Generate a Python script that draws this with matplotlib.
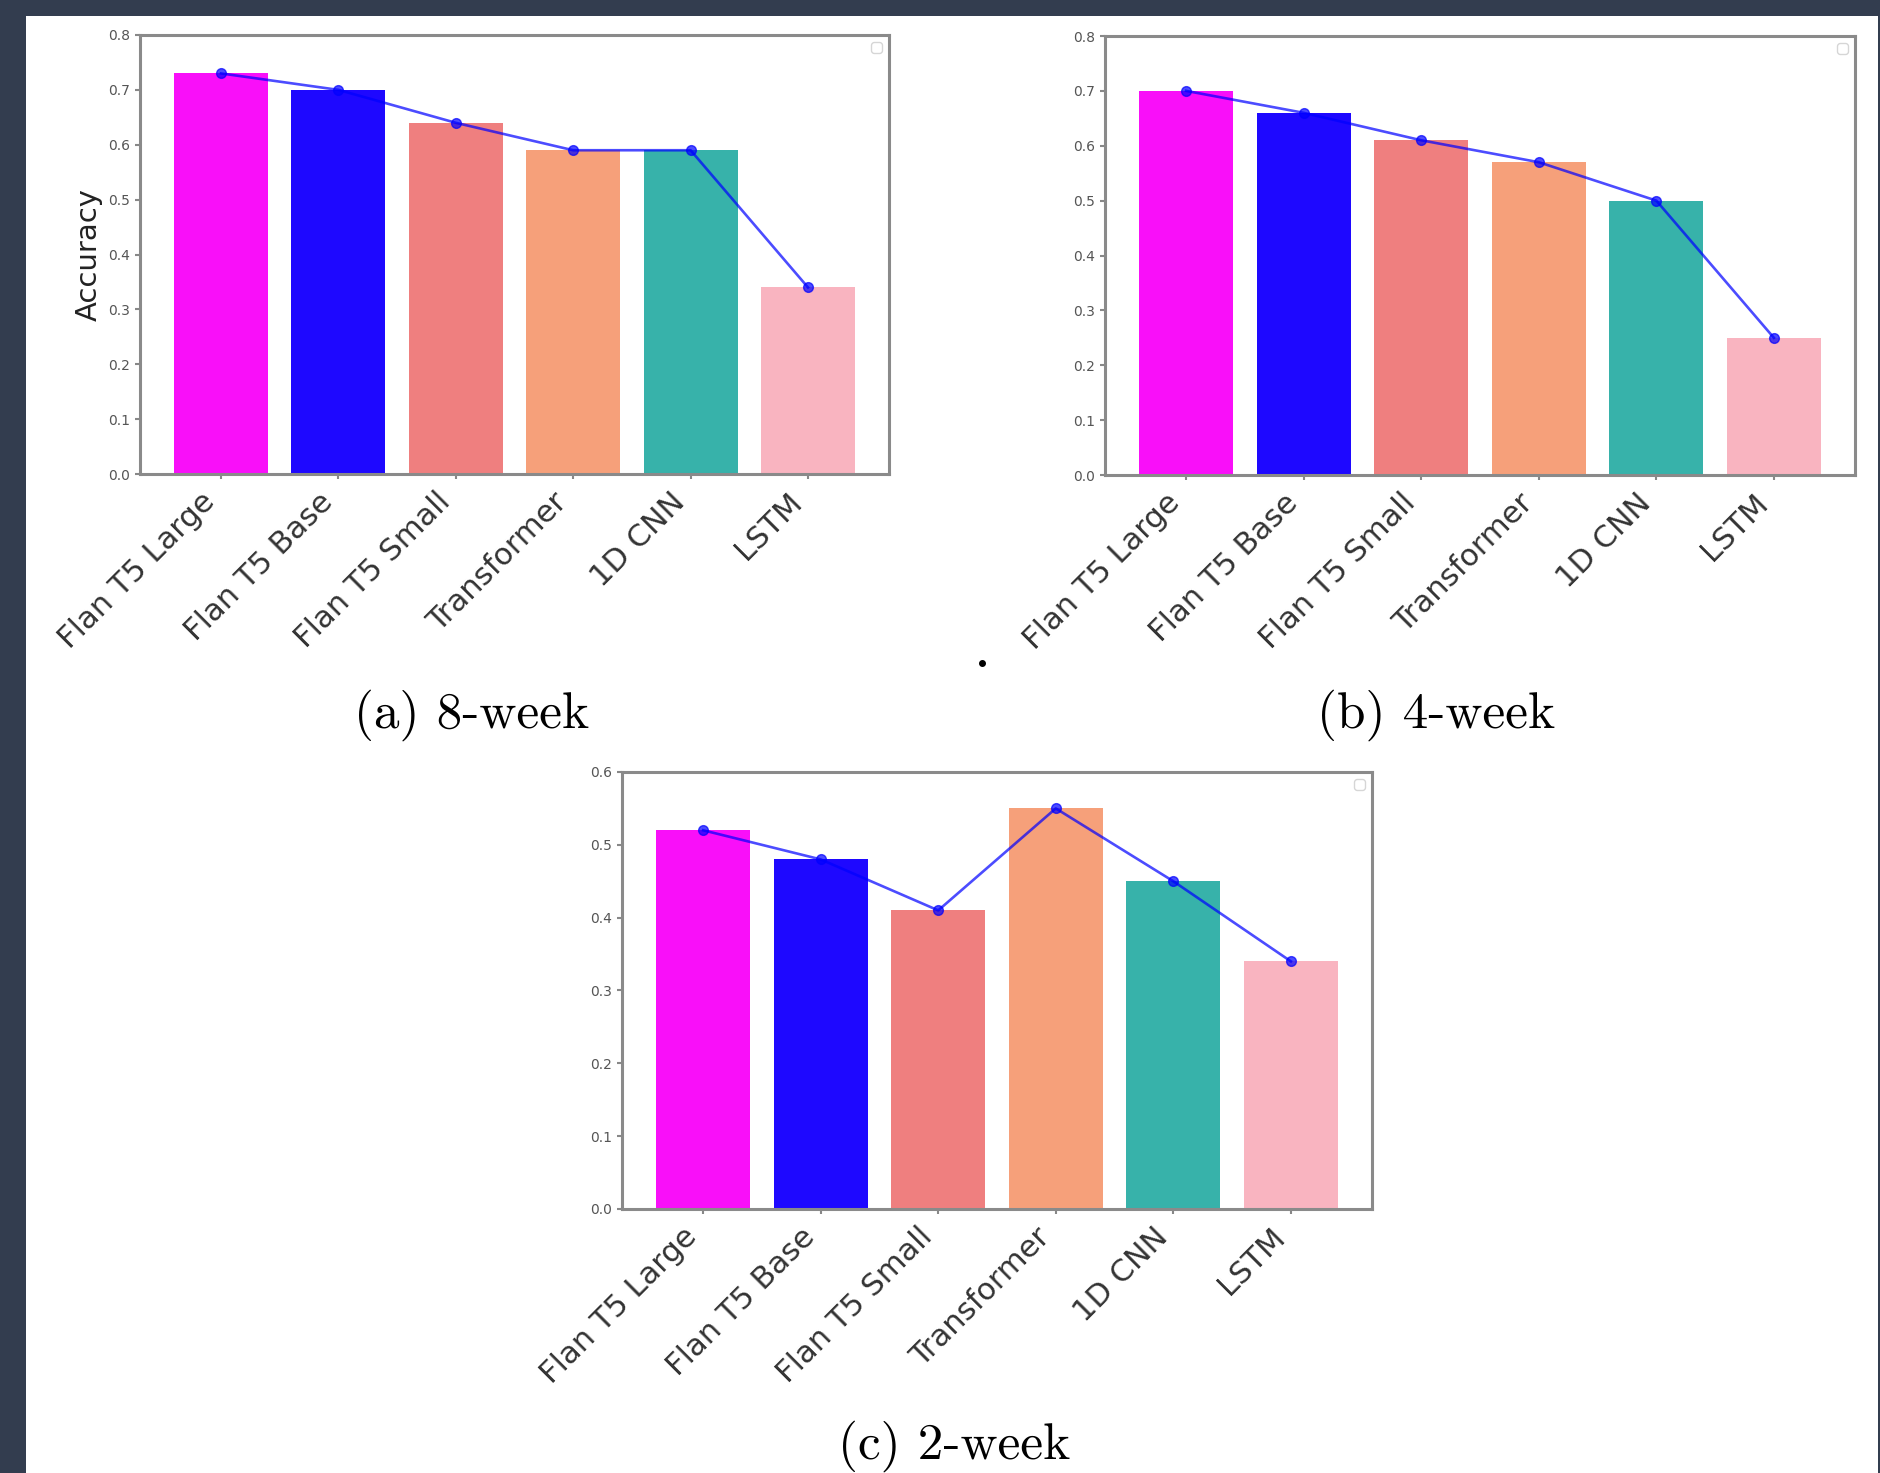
import matplotlib.pyplot as plt
from matplotlib.patches import Rectangle
from matplotlib.lines import Line2D

models = ['Flan T5 Large', 'Flan T5 Base', 'Flan T5 Small', 'Transformer', '1D CNN', 'LSTM']
acc_8week = [0.73, 0.70, 0.64, 0.59, 0.59, 0.34]
acc_4week = [0.70, 0.66, 0.61, 0.57, 0.50, 0.25]
acc_2week = [0.52, 0.48, 0.41, 0.55, 0.45, 0.34]
bar_colors = ['#f90ff9', '#1e08ff', '#ef7f7f', '#f6a07a', '#37b2aa', '#f9b4c0']
captions = ['(a) 8-week', '(b) 4-week', '(c) 2-week']

W, H = 1881, 1473
fig = plt.figure(figsize=(W / 100, H / 100), dpi=100)
fig.patch.set_facecolor('#333d4f')
# white page behind the figure
fig.patches.append(Rectangle((26 / W, 0), (1878 - 26) / W, 1 - 16 / H,
                             transform=fig.transFigure, facecolor='white',
                             edgecolor='none', zorder=-10))


def px_axes(left, top, right, bottom):
    return fig.add_axes([left / W, 1 - bottom / H, (right - left) / W, (bottom - top) / H])


def draw_panel(ax, values, ymax, ylabel=None):
    x = range(len(models))
    ax.bar(x, values, color=bar_colors, width=0.8)
    ax.plot(x, values, color='blue', alpha=0.7, lw=1.9, marker='o', ms=7)
    ax.set_ylim(0, ymax)
    ax.set_xticks(list(x))
    ax.set_xticklabels(models, rotation=45, ha='right', fontsize=22, color='#333333')
    ax.tick_params(axis='y', labelsize=10, labelcolor='#555555', color='#888888', width=1.5)
    ax.tick_params(axis='x', color='#888888', width=1.5, pad=6)
    for s in ax.spines.values():
        s.set_color('#8a8a8a')
        s.set_linewidth(2.2)
    if ylabel:
        ax.set_ylabel(ylabel, fontsize=21, color='#222222', labelpad=4)
    ax.legend(handles=[], loc='upper right')


ax_a = px_axes(140, 35, 889, 474)
draw_panel(ax_a, acc_8week, 0.8, 'Accuracy')
ax_b = px_axes(1105, 36, 1855, 475)
draw_panel(ax_b, acc_4week, 0.8)
ax_c = px_axes(622, 772, 1372, 1209)
draw_panel(ax_c, acc_2week, 0.6)

for (cx, cy), cap in zip([(472, 715), (1436, 715), (954, 1446)], captions):
    fig.text(cx / W, 1 - cy / H, cap, ha='center', va='center',
             fontsize=37, family='cmr10', color='black')

fig.add_artist(Line2D([982 / W], [1 - 663 / H], marker='o', ms=4, color='black',
                      transform=fig.transFigure))

plt.savefig('out.png', dpi=100, facecolor=fig.get_facecolor())
